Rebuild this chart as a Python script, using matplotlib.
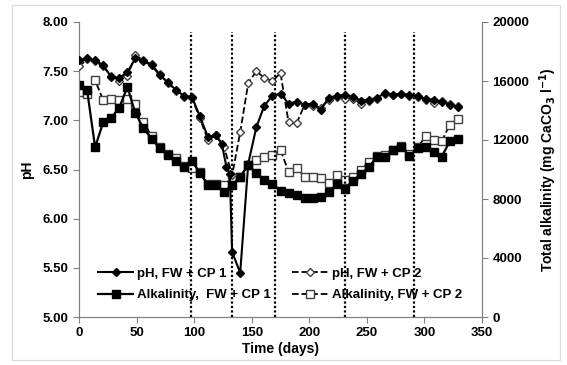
import numpy as np
import matplotlib
matplotlib.use('Agg')
from matplotlib import pyplot as plt
from matplotlib.patches import Rectangle

plt.rcParams['font.family'] = ['Liberation Sans', 'DejaVu Sans']
plt.rcParams['font.weight'] = 'bold'

# pH, FW + CP 1
days_ph1 = [0, 7, 14, 21, 28, 35, 42, 49, 56, 63, 70, 77, 84, 91, 98, 105, 112, 119, 124, 128,
            131, 133, 140, 147, 154, 161, 168, 175, 182, 189, 196, 203, 210, 217, 224, 231, 238,
            245, 252, 259, 266, 273, 280, 287, 294, 301, 308, 315, 322, 329]
ph1 = [7.61, 7.63, 7.61, 7.56, 7.44, 7.43, 7.49, 7.63, 7.60, 7.56, 7.46, 7.39, 7.31, 7.25, 7.24,
       7.04, 6.83, 6.85, 6.76, 6.53, 6.45, 5.66, 5.45, 6.56, 6.93, 7.15, 7.25, 7.27, 7.17, 7.19,
       7.16, 7.17, 7.11, 7.23, 7.25, 7.26, 7.24, 7.20, 7.21, 7.23, 7.28, 7.26, 7.27, 7.26, 7.25,
       7.22, 7.21, 7.19, 7.16, 7.14]

# pH, FW + CP 2
days_ph2 = [0, 7, 14, 21, 28, 35, 42, 49, 56, 63, 70, 77, 84, 91, 98, 105, 112, 119, 126, 133,
            140, 147, 154, 161, 168, 175, 182, 189, 196, 203, 210, 217, 224, 231, 238, 245, 252,
            259, 266, 273, 280, 287, 294, 301, 308, 315, 322, 329]
ph2 = [7.55, 7.62, 7.60, 7.55, 7.45, 7.40, 7.45, 7.66, 7.61, 7.57, 7.47, 7.38, 7.30, 7.24, 7.23,
       7.02, 6.80, 6.85, 6.73, 6.44, 6.88, 7.38, 7.50, 7.43, 7.40, 7.48, 6.98, 6.97, 7.16, 7.15,
       7.13, 7.21, 7.24, 7.22, 7.22, 7.17, 7.20, 7.22, 7.27, 7.26, 7.27, 7.25, 7.24, 7.21, 7.18,
       7.20, 7.17, 7.15]

# Alkalinity (mg CaCO3/l)
days_alk = [0, 7, 14, 21, 28, 35, 42, 49, 56, 63, 70, 77, 84, 91, 98, 105, 112, 119, 126, 133,
            140, 147, 154, 161, 168, 175, 182, 189, 196, 203, 210, 217, 224, 231, 238, 245, 252,
            259, 266, 273, 280, 287, 294, 301, 308, 315, 322, 329]
alk1 = [15700, 15400, 11500, 13200, 13500, 14200, 15600, 13800, 12800, 12100, 11450, 11000,
        10550, 10200, 10600, 9750, 8950, 8950, 8450, 8950, 9500, 10300, 9750, 9300, 9050, 8550,
        8400, 8270, 8050, 8100, 8160, 8450, 9000, 8700, 9250, 9700, 10200, 10870, 10870, 11300,
        11550, 10900, 11450, 11550, 11200, 10870, 11900, 12100]
alk2 = [15250, 15100, 16050, 14700, 14800, 14700, 14800, 14450, 13250, 12250, 11500, 11050,
        10750, 10250, 10100, 9800, 9000, 9000, 8950, 9400, 9500, 10300, 10650, 10870, 11000,
        11320, 9850, 10080, 9510, 9510, 9400, 9060, 9630, 9290, 9500, 10000, 10500, 10900,
        10950, 11300, 11600, 11050, 11500, 12250, 12000, 11900, 13050, 13400]

phase_days = [97, 133, 170, 231, 291]

fig = plt.figure(figsize=(5.67, 3.65), dpi=100)
fig.patches.append(Rectangle((12 / 567, 5 / 365), 548 / 567, 355 / 365, transform=fig.transFigure,
                             fill=False, edgecolor='#d9d9d9', linewidth=0.8))
ax = fig.add_axes([79 / 567, 48 / 365, 403 / 567, 295 / 365])
ax2 = ax.twinx()

ax.vlines(phase_days, 5.0, 7.9, colors='black', linestyles=(0, (1, 1)), linewidth=1.6, zorder=1)

l1, = ax.plot(days_ph1, ph1, '-', color='black', lw=1.5, marker='D', ms=4,
              mfc='black', mec='black', zorder=4)
l2, = ax.plot(days_ph2, ph2, '--', color='black', lw=1.3, marker='D', ms=4,
              mfc='white', mec='#404040', zorder=3)
l3, = ax2.plot(days_alk, alk1, '-', color='black', lw=1.6, marker='s', ms=5.5,
               mfc='black', mec='black', zorder=3)
l4, = ax2.plot(days_alk, alk2, '--', color='black', lw=1.3, marker='s', ms=5.5,
               mfc='white', mec='#404040', zorder=2)
ax.set_zorder(ax2.get_zorder() + 1)
ax.patch.set_visible(False)

ax.set_xlim(0, 350)
ax.set_ylim(5, 8)
ax.set_xticks(range(0, 351, 50))
ax.set_yticks(np.arange(5, 8.01, 0.5))
ax.set_yticklabels(['%.2f' % v for v in np.arange(5, 8.01, 0.5)])
ax2.set_ylim(0, 20000)
ax2.set_yticks(range(0, 20001, 4000))

for a in (ax, ax2):
    a.tick_params(labelsize=9.5, direction='out', length=4, width=0.8, color='#808080')
    a.spines['top'].set_visible(False)
    for s in ('left', 'right', 'bottom'):
        a.spines[s].set_color('#808080')
    for lab in a.get_xticklabels() + a.get_yticklabels():
        lab.set_fontweight('bold')

ax.set_xlabel('Time (days)', fontsize=10, fontweight='bold', labelpad=2)
ax.set_ylabel('pH', fontsize=10, fontweight='bold', labelpad=6)
ax2.set_ylabel(r'Total alkalinity (mg CaCO$_\mathbf{3}$ l$^\mathbf{-1}$)', fontsize=10,
               fontweight='bold', labelpad=6)

leg = ax.legend([l1, l3, l2, l4],
                ['pH, FW + CP 1', 'Alkalinity,  FW + CP 1', 'pH, FW + CP 2', 'Alkalinity, FW + CP 2'],
                ncol=2, loc='lower left', bbox_to_anchor=(0.017, 0.013), frameon=False,
                handlelength=2.7, columnspacing=1.6, labelspacing=0.7,
                handletextpad=0.3, prop={'weight': 'bold', 'size': 9.5})

fig.savefig('out.png', dpi=100)
